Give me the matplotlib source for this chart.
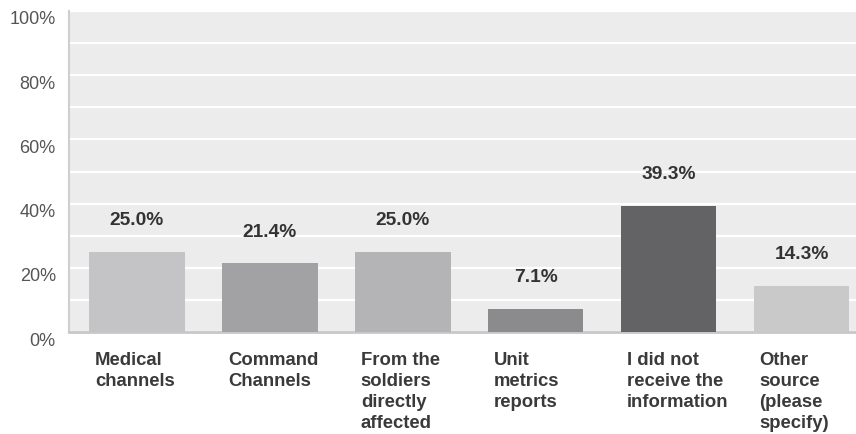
import matplotlib
matplotlib.use("Agg")
import matplotlib.pyplot as plt
import matplotlib.transforms as mtransforms

categories = ["Medical\nchannels", "Command\nChannels", "From the\nsoldiers\ndirectly\naffected",
              "Unit\nmetrics\nreports", "I did not\nreceive the\ninformation", "Other\nsource\n(please\nspecify)"]
values = [25.0, 21.4, 25.0, 7.1, 39.3, 14.3]
bar_colors = ["#c4c4c6", "#a2a2a5", "#b4b4b6", "#8b8b8e", "#636366", "#c9c9ca"]
yticks = [0, 20, 40, 60, 80, 100]
ytick_labels = ["0%", "20%", "40%", "60%", "80%", "100%"]

plt.rcParams['font.family'] = ['Liberation Sans', 'DejaVu Sans']

fig = plt.figure(figsize=(8.56, 4.34), dpi=100)
fig.patch.set_facecolor("white")
ax = fig.add_axes([69/856, 102/434, 1 - 69/856, 321/434])
ax.set_facecolor("#ececec")

x = list(range(len(values)))
ax.bar(x, values, width=0.72, color=bar_colors, zorder=3)

ax.set_xlim(-0.51, 5.41)
ax.set_ylim(0, 100)
ax.set_axisbelow(True)
ax.set_yticks(yticks)
ax.set_yticks(range(10, 100, 20), minor=True)
ax.yaxis.grid(True, which="both", color="white", linewidth=1.6)
ax.set_yticklabels(ytick_labels, fontsize=13, color="#555555")
ax.tick_params(axis="y", which="both", length=0, pad=9.5)
ax.tick_params(axis="x", length=0)
ax.set_xticks([])

offset = mtransforms.ScaledTranslation(0, -7/100, fig.dpi_scale_trans)
for lbl in ax.get_yticklabels():
    lbl.set_transform(lbl.get_transform() + offset)

for s in ["top", "right"]:
    ax.spines[s].set_visible(False)
ax.spines["left"].set_color("#cfcfcf")
ax.spines["left"].set_linewidth(1.5)
ax.spines["bottom"].set_color("#c8c8c8")
ax.spines["bottom"].set_linewidth(2)

for xi, v in zip(x, values):
    ax.annotate(f"{v:.1f}%", xy=(xi, v), xytext=(0, 22.5), textcoords="offset points",
                ha="center", va="center", fontsize=13.8, fontweight="bold", color="#333333")

for xi, c in zip(x, categories):
    ax.annotate(c, xy=(xi - 0.36 + 0.045, 0), xycoords=("data", "axes fraction"),
                xytext=(0, -14.5), textcoords="offset points", ha="left", va="top",
                fontsize=13.3, fontweight="bold", color="#3a3a3a", linespacing=1.3)

fig.savefig("out.png", dpi=100)
